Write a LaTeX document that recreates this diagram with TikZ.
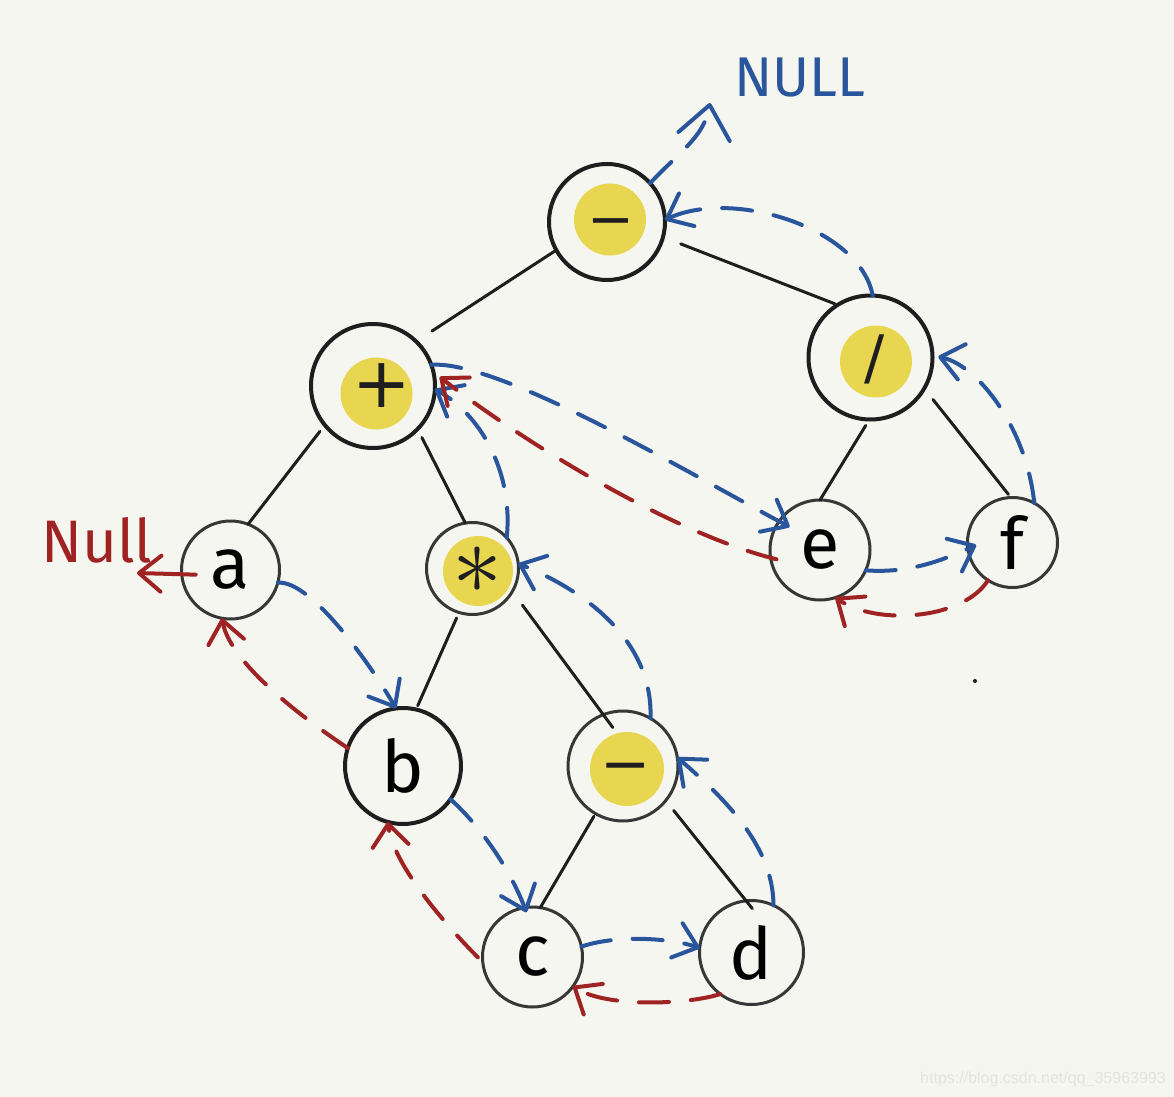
\documentclass[tikz,border=0pt]{standalone}
\usepackage{fontspec}
\setmainfont{Fira Sans}
\newfontfamily\symf{DejaVu Sans}
\newfontfamily\wmf{Liberation Sans}
\usetikzlibrary{arrows.meta}
\definecolor{bgc}{RGB}{245,246,240}
\definecolor{yel}{RGB}{233,214,80}
\definecolor{thb}{RGB}{40,85,155}
\definecolor{thr}{RGB}{160,35,35}
\definecolor{ink}{RGB}{30,30,30}
\definecolor{inkl}{RGB}{55,55,55}
\definecolor{wmc}{RGB}{228,228,222}
\begin{document}
\begin{tikzpicture}[x=0.5pt,y=-0.5pt,
  every node/.style={inner sep=0pt, outer sep=0pt},
  vtx/.style={circle, draw=inkl, line width=1.5pt, minimum size=#1, font=\fontsize{36}{40}\selectfont},
  vtxb/.style={circle, draw=ink, line width=2pt, minimum size=#1, font=\fontsize{36}{40}\selectfont},
  yl/.style 2 args={path picture={\fill[yel] ([shift={(#1)}]path picture bounding box.center) circle[radius=#2];}},
  opl/.style={font=\symf\fontsize{#1}{#1}\selectfont, text=ink},
  link/.style={draw=ink, line width=1.5pt, line cap=round},
  bt/.style={draw=thb, line width=2pt, line cap=round, dash pattern=on 15pt off 11pt,
    -{Straight Barb[length=11pt,width=18pt,round]}},
  rt/.style={draw=thr, line width=2pt, line cap=round, dash pattern=on 15pt off 11pt,
    -{Straight Barb[length=11pt,width=18pt,round]}}
]
\fill[bgc] (0,0) rectangle (1174,1097);
\useasboundingbox (0,0) rectangle (1174,1097);

% nodes
\node[vtxb=58pt, yl={3,-2.5}{18pt}, label={[opl=28, shift={(4,7)}]center:−}] (root) at (607,222) {};
\node[vtxb=62pt, yl={3.5,7.5}{18pt}, label={[opl=35, shift={(9,0)}]center:+}] (plus) at (373,386) {};
\node[vtxb=62pt, yl={5.5,4}{18pt}, label={[opl=30, shift={(4,2)}]center:/}] (slash) at (870.5,357.5) {};
\node[vtx=46pt, yl={5.5,2.5}{17.5pt}, label={[text=ink, shift={(5,2)}]center:\scalebox{5}{$\ast$}}] (star) at (472.5,568.5) {};
\node[vtx=55pt, yl={4,3}{18.5pt}, label={[opl=30, shift={(3,8)}]center:−}] (m2) at (623,766) {};
\node[vtx=49pt] (a) at (230.5,570) {a};
\node[vtxb=58pt] (b) at (403,766) {b};
\node[vtx=50pt] (c) at (532.5,957) {c};
\node[vtx=52pt] (d) at (751.5,952.5) {d};
\node[vtx=50pt] (e) at (820,550) {e};
\node[vtx=45pt] (f) at (1012.5,542.5) {f};

% NULL labels
\node[font=\fontsize{28}{30}\selectfont, text=thb] (nullT) at (800,78) {NULL};
\node[font=\fontsize{30}{32}\selectfont, text=thr] (nullR) at (97,540) {Null};
\coordinate (nb) at (710,103);
\coordinate (nr) at (137,573);

% tree edges
\draw[link, shorten >=9.5pt, shorten <=1pt] (root.209) -- (plus.46);
\draw[link, shorten <=9.5pt, shorten >=1.5pt] (root.-15) -- (slash.122);
\draw[link, shorten <=4pt] (plus.219) -- (a.69);
\draw[link, shorten <=4.75pt] (plus.-44) -- (star.99);
\draw[link, shorten <=3.5pt] (slash.269) -- (e.90);
\draw[link, shorten <=7pt, shorten >=2pt] (slash.-30) -- (f.92);
\draw[link, shorten <=3pt, shorten >=2pt] (star.253) -- (b.77);
\draw[link, shorten <=8.5pt, shorten >=-8pt] (star.-30) -- (m2.111);
\draw[link, shorten <=1.5pt] (m2.240) -- (c.81);
\draw[link, shorten <=6.3pt, shorten >=-5pt] (m2.-39) -- (d.96);

% blue threads (successor)
\draw[bt, -{Straight Barb[length=16pt,width=26pt,round]}] (root.42) .. controls +(30,-32) and +(-6,34) .. (nb);
\draw[bt] (slash.88) .. controls +(-12,-67) and +(68,-32) .. (root.2);
\draw[bt, shorten >=3pt] (f.61) .. controls +(-8,-76) and +(45,10) .. (slash.2);
\draw[bt, shorten >=-4.5pt] (e.-24) .. controls +(40,3) and +(-30,14) .. (f.188);
\draw[bt, shorten >=-6pt] (plus.20) .. controls +(70,-5) and +(-80,-42) .. (e.145);
\draw[bt] (star.42) .. controls +(7,-66) and +(45,25) .. (plus.-3);
\draw[bt] (m2.60) .. controls +(3,-87) and +(50,20) .. (star.6);
\draw[bt] (d.65) .. controls +(0,-63) and +(40,35) .. (m2.9);
\draw[bt] (c.12) .. controls +(35,-12) and +(-30,-10) .. (d.175);
\draw[bt, shorten >=-2.5pt] (b.-35) .. controls +(28,25) and +(-15,-40) .. (c.99);
\draw[bt] (a.-15) .. controls +(35,-3) and +(-20,-35) .. (b.97);

% red threads (predecessor)
\draw[rt, dash pattern=, shorten <=-7pt] (a.185) -- (nr);
\draw[rt] (b.162) .. controls +(-45,-30) and +(8,45) .. (a.-100);
\draw[rt, shorten <=3.5pt] (c.186) .. controls +(-30,-30) and +(5,45) .. (b.-105);
\draw[rt] (d.-127) .. controls +(-30,10) and +(35,22) .. (c.-36);
\draw[rt] (f.-123) .. controls +(-25,40) and +(40,28) .. (e.-72);
\draw[rt, shorten <=-3pt, shorten >=4pt] (e.189) .. controls +(-100,-25) and +(90,70) .. (plus.13);

% stray dot and watermark
\fill[ink] (975,681) circle[radius=1pt];
\node[font=\wmf\fontsize{8}{9}\selectfont, text=wmc] (wm) at (1043,1079) {https://blog.csdn.net/qq\_35963993};
\end{tikzpicture}
\end{document}
